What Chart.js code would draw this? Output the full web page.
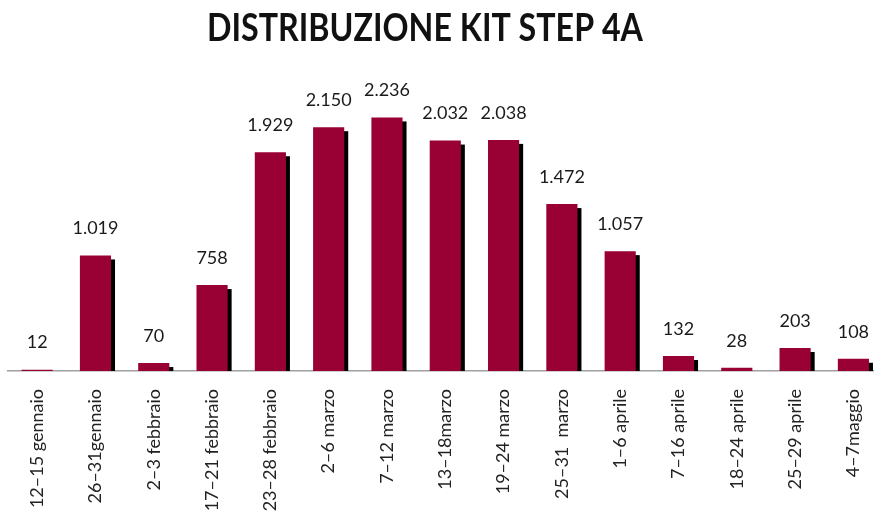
<!DOCTYPE html>
<html>
<head>
<meta charset="utf-8">
<title>Distribuzione kit step 4A</title>
<script src="https://cdn.jsdelivr.net/npm/chart.js"></script>
<style>
  html, body { margin: 0; padding: 0; background: #fff; overflow: hidden; }
  .chart-box { width: 893px; height: 512px; }
</style>
</head>
<body>
<div class="chart-box"><canvas id="myChart"></canvas></div>
<script>
// periodi di distribuzione
const categories = [
  '12–15 gennaio', '26–31gennaio', '2–3 febbraio', '17–21 febbraio', '23–28 febbraio',
  '2–6 marzo', '7–12 marzo', '13–18marzo', '19–24 marzo', '25–31  marzo',
  '1–6 aprile', '7–16 aprile', '18–24 aprile', '25–29 aprile', '4–7maggio'
];
// kit distribuiti
const kitValues = [12, 1019, 70, 758, 1929, 2150, 2236, 2032, 2038, 1472, 1057, 132, 28, 203, 108];

const chartTitle = 'DISTRIBUZIONE KIT STEP 4A';
const barColor = '#990033';

// formato italiano: 2.236
function fmt(v) {
  return v.toLocaleString('it-IT');
}

// titolo un po' stretto, come nell'originale
const titlePlugin = {
  id: 'narrowTitle',
  afterDraw(chart) {
    const ctx = chart.ctx;
    ctx.save();
    ctx.font = 'bold 39px Lato, sans-serif';
    ctx.fillStyle = '#111';
    ctx.textAlign = 'center';
    ctx.textBaseline = 'middle';
    const w = ctx.measureText(chartTitle).width;
    const sx = 436 / w;
    ctx.translate(425, 28);
    ctx.scale(sx, 1);
    ctx.fillText(chartTitle, 0, 0);
    ctx.restore();
  }
};

// ombra nera spostata a destra e in basso
const shadowPlugin = {
  id: 'barShadow',
  beforeDatasetsDraw(chart) {
    const ctx = chart.ctx;
    const meta = chart.getDatasetMeta(0);
    ctx.save();
    ctx.fillStyle = '#000';
    meta.data.forEach(bar => {
      const h = bar.base - bar.y - 4;
      if (h > 0) {
        ctx.fillRect(bar.x - bar.width / 2 + 4, bar.y + 4, bar.width, h);
      }
    });
    ctx.restore();
  }
};

// etichette sopra le barre
const valueLabels = {
  id: 'valueLabels',
  afterDatasetsDraw(chart) {
    const ctx = chart.ctx;
    const meta = chart.getDatasetMeta(0);
    ctx.save();
    ctx.font = '18px Lato, sans-serif';
    ctx.fillStyle = '#1a1a1a';
    ctx.textAlign = 'center';
    ctx.textBaseline = 'middle';
    meta.data.forEach((bar, i) => {
      ctx.fillText(fmt(kitValues[i]), bar.x, bar.y - 27);
    });
    ctx.restore();
  }
};

const ctx = document.getElementById('myChart').getContext('2d');
new Chart(ctx, {
  type: 'bar',
  data: {
    labels: categories,
    datasets: [{
      data: kitValues,
      backgroundColor: barColor,
      borderWidth: 0,
      categoryPercentage: 1,
      barPercentage: 0.534
    }]
  },
  options: {
    responsive: true,
    maintainAspectRatio: false,
    animation: false,
    layout: { padding: { left: 8, right: 0, top: 87.5, bottom: 0 } },
    plugins: {
      legend: { display: false },
      tooltip: { enabled: false },
      title: { display: false }
    },
    scales: {
      x: {
        grid: { display: false, drawTicks: false },
        border: { display: true, color: '#a0a0a0', width: 1.5 },
        ticks: {
          color: '#222',
          font: { family: 'Lato, sans-serif', size: 18 },
          minRotation: 90,
          maxRotation: 90,
          autoSkip: false,
          padding: 18
        },
        afterFit(scale) {
          scale.height = 141;
        }
      },
      y: {
        display: false,
        min: 0,
        max: 2500
      }
    }
  },
  plugins: [shadowPlugin, valueLabels, titlePlugin]
});
</script>
</body>
</html>
